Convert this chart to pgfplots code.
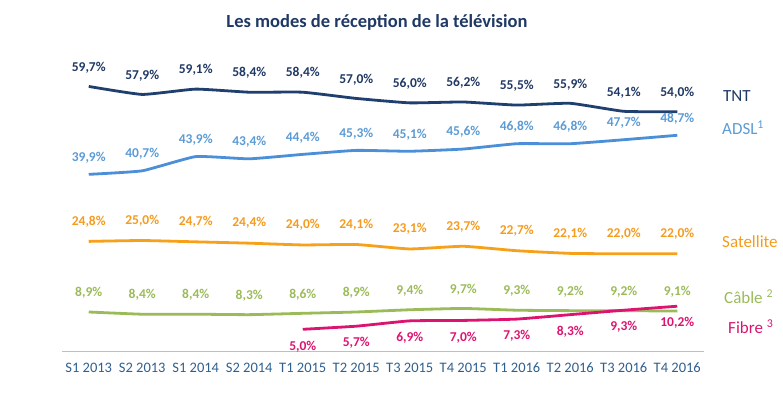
\documentclass[border=0pt]{standalone}
\usepackage{fontspec}
\setmainfont{Carlito}
\usepackage{pgfplots}
\pgfplotsset{compat=1.18}
\definecolor{tntc}{HTML}{1F3F6E}
\definecolor{tntl}{HTML}{1F3864}
\definecolor{adslc}{HTML}{4A8FD8}
\definecolor{adsll}{HTML}{5B9BD5}
\definecolor{satc}{HTML}{F7A11A}
\definecolor{satl}{HTML}{F59B1E}
\definecolor{cabc}{HTML}{9BBB59}
\definecolor{fibc}{HTML}{DC1470}
\definecolor{axc}{HTML}{BFBFBF}
\definecolor{tickc}{HTML}{2F5F8F}
\begin{document}
\begin{tikzpicture}[x=1pt,y=1pt]
\begin{axis}[
  at={(0,0)}, anchor=south west,
  scale only axis, width=642pt, height=266.4pt,
  xmin=-0.5, xmax=11.5, ymin=0, ymax=60,
  clip=false,
  hide y axis,
  axis x line=bottom,
  x axis line style={-, draw=axc, line width=0.8pt},
  xtick={0,...,11},
  xticklabels={S1 2013,S2 2013,S1 2014,S2 2014,T1 2015,T2 2015,T3 2015,T4 2015,T1 2016,T2 2016,T3 2016,T4 2016},
  major x tick style={draw=none},
  extra x ticks={-0.5,0.5,...,11.5},
  extra x tick labels={},
  extra x tick style={tick align=outside, major tick length=4pt, tick style={draw=axc, line width=0.8pt}},
  xticklabel style={font=\fontsize{14.5}{17}\selectfont, text=tickc, yshift=-6pt},
  every axis plot/.append style={line width=2.8pt, smooth, tension=0.25, no markers},
  nodes near coords={\pgfmathprintnumber[fixed,fixed zerofill,precision=1,use comma,assume math mode=true]{\pgfplotspointmeta}\%},
  nodes near coords style={anchor=center, font=\bfseries\fontsize{13.5}{16}\selectfont},
]
\addplot[tntc, nodes near coords style={yshift=19pt, text=tntl}] coordinates {
(0,59.7)(1,57.9)(2,59.1)(3,58.4)(4,58.4)(5,57.0)(6,56.0)(7,56.2)(8,55.5)(9,55.9)(10,54.1)(11,54.0)};
\addplot[adslc, nodes near coords style={yshift=17pt, text=adsll}] coordinates {
(0,39.9)(1,40.7)(2,43.9)(3,43.4)(4,44.4)(5,45.3)(6,45.1)(7,45.6)(8,46.8)(9,46.8)(10,47.7)(11,48.7)};
\addplot[satc, nodes near coords style={yshift=20pt, text=satl}] coordinates {
(0,24.8)(1,25.0)(2,24.7)(3,24.4)(4,24.0)(5,24.1)(6,23.1)(7,23.7)(8,22.7)(9,22.1)(10,22.0)(11,22.0)};
\addplot[cabc, nodes near coords style={yshift=19pt, text=cabc}] coordinates {
(0,8.9)(1,8.4)(2,8.4)(3,8.3)(4,8.6)(5,8.9)(6,9.4)(7,9.7)(8,9.3)(9,9.2)(10,9.2)(11,9.1)};
\addplot[fibc, nodes near coords style={yshift=-17pt, text=fibc}] coordinates {
(4,5.0)(5,5.7)(6,6.9)(7,7.0)(8,7.3)(9,8.3)(10,9.3)(11,10.2)};
\end{axis}
\node[font=\bfseries\fontsize{18.5}{22}\selectfont, text=tntl] at (315,329.5) {Les modes de réception de la télévision};
\node[anchor=west, font=\fontsize{17}{19}\selectfont, text=tntl, inner sep=0pt] at (661,255.5) {TNT};
\node[anchor=west, font=\fontsize{17}{19}\selectfont, text=adsll, inner sep=0pt] at (660,223.5) {ADSL\textsuperscript{1}};
\node[anchor=west, font=\fontsize{17}{19}\selectfont, text=satl, inner sep=0pt] at (660,109.5) {Satellite};
\node[anchor=west, font=\fontsize{17}{19}\selectfont, text=cabc, inner sep=0pt] at (662,54.5) {Câble \textsuperscript{2}};
\node[anchor=west, font=\fontsize{17}{19}\selectfont, text=fibc, inner sep=0pt] at (666,24.5) {Fibre \textsuperscript{3}};
\pgfresetboundingbox
\useasboundingbox (-62,-42.5) rectangle (721,351.5);
\end{tikzpicture}
\end{document}
